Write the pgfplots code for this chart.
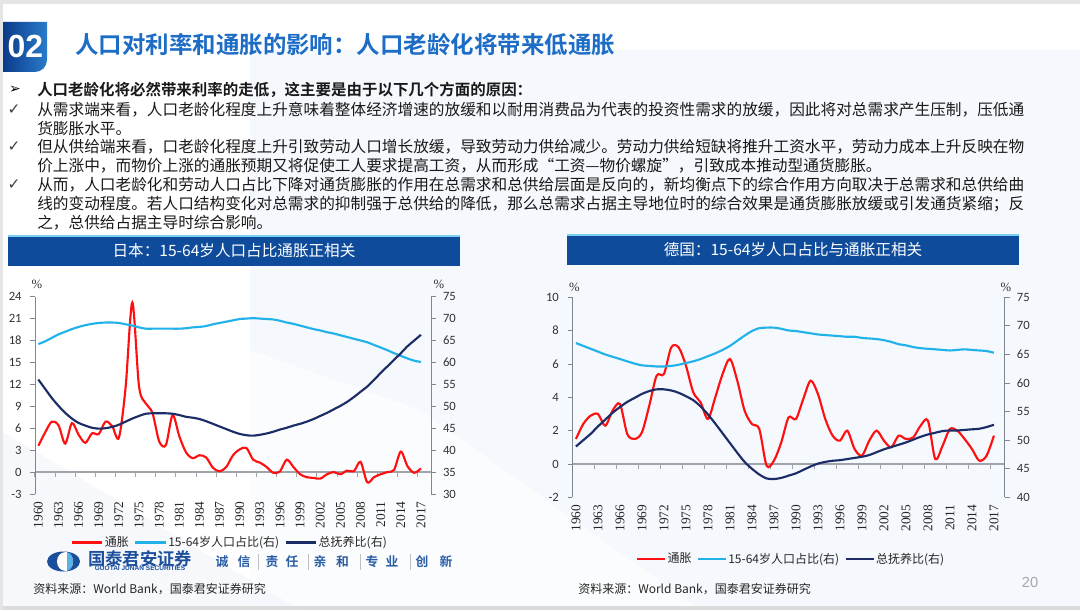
\documentclass[border=0pt]{standalone}
\usepackage{pgfplots}
\usepackage{pgfplotstable}
\pgfplotsset{compat=1.18}
\usepackage{fontspec}
\setmainfont{Noto Sans CJK SC}[BoldFont={Noto Sans CJK SC Bold}]
\newfontfamily\symf{DejaVu Sans}
\newfontfamily\calf{Carlito}
\newfontfamily\tmsf{Liberation Serif}
\newfontfamily\arif{Liberation Sans}

\definecolor{jred}{HTML}{FF1010}
\definecolor{lblue}{HTML}{22B2EA}
\definecolor{navy}{HTML}{1C2C66}
\definecolor{barblue}{HTML}{0E4C9B}
\definecolor{titleblue}{HTML}{1D6CC5}
\definecolor{axgray}{HTML}{7F8793}
\definecolor{zerogray}{HTML}{A0A4AA}
\definecolor{hdark}{HTML}{0B3A8A}
\definecolor{hlight}{HTML}{2A7CCB}
\definecolor{logoblue}{HTML}{1B4F9C}
\definecolor{logolight}{HTML}{5DB2E4}
\definecolor{slogan}{HTML}{2B5DA6}
\definecolor{bgtint}{HTML}{EEF3FA}

\pgfplotstableread{
year infl wa dep
1960 3.6 64.2 56.1
1961 5.4 64.8 54.0
1962 6.9 65.6 51.9
1963 6.4 66.4 50.1
1964 3.9 67.0 48.5
1965 6.7 67.6 47.2
1966 5.1 68.1 46.2
1967 4.0 68.5 45.6
1968 5.3 68.8 45.1
1969 5.2 69.0 44.9
1970 6.9 69.1 45.0
1971 6.3 69.1 45.3
1972 4.7 69.0 45.8
1973 11.6 68.7 46.5
1974 23.2 68.4 47.2
1975 11.7 68.0 47.8
1976 9.4 67.7 48.3
1977 8.1 67.7 48.4
1978 4.2 67.7 48.4
1979 3.7 67.7 48.4
1980 7.8 67.7 48.3
1981 4.9 67.7 48.0
1982 2.7 67.8 47.6
1983 1.9 68.0 47.4
1984 2.3 68.1 47.1
1985 2.0 68.3 46.6
1986 0.6 68.7 46.0
1987 0.1 69.0 45.4
1988 0.7 69.3 44.8
1989 2.3 69.6 44.2
1990 3.1 69.9 43.7
1991 3.3 70.0 43.4
1992 1.7 70.1 43.3
1993 1.3 70.0 43.5
1994 0.7 69.9 43.8
1995 -0.1 69.8 44.2
1996 0.1 69.5 44.7
1997 1.7 69.1 45.1
1998 0.7 68.8 45.6
1999 -0.3 68.4 46.0
2000 -0.7 68.0 46.5
2001 -0.8 67.6 47.1
2002 -0.9 67.3 47.8
2003 -0.3 66.9 48.5
2004 0.0 66.6 49.3
2005 -0.3 66.2 50.1
2006 0.2 65.8 51.0
2007 0.1 65.4 52.1
2008 1.4 65.0 53.3
2009 -1.4 64.6 54.5
2010 -0.7 64.0 56.0
2011 -0.3 63.4 57.6
2012 0.0 62.8 59.1
2013 0.3 62.1 60.6
2014 2.8 61.5 62.1
2015 0.8 60.9 63.7
2016 -0.1 60.4 65.0
2017 0.5 60.1 66.3
}\jpdata

\pgfplotstableread{
year infl wa dep
1960 1.5 67.0 48.9
1961 2.4 66.5 50.0
1962 2.9 66.0 51.1
1963 3.0 65.5 52.4
1964 2.3 65.0 53.6
1965 3.2 64.6 54.8
1966 3.6 64.2 55.8
1967 1.8 63.8 56.7
1968 1.5 63.4 57.4
1969 1.9 63.1 58.1
1970 3.5 63.0 58.6
1971 5.3 62.9 58.9
1972 5.4 62.9 58.9
1973 7.0 63.0 58.7
1974 7.0 63.2 58.3
1975 5.9 63.5 57.7
1976 4.3 63.8 57.0
1977 3.7 64.2 55.9
1978 2.7 64.7 54.5
1979 4.0 65.2 52.9
1980 5.4 65.8 51.2
1981 6.3 66.5 49.5
1982 5.0 67.4 47.8
1983 3.2 68.3 46.2
1984 2.4 69.1 45.0
1985 2.1 69.6 44.0
1986 -0.1 69.7 43.3
1987 0.2 69.7 43.2
1988 1.3 69.5 43.4
1989 2.8 69.2 43.8
1990 2.7 69.1 44.2
1991 3.9 68.9 44.8
1992 5.0 68.7 45.4
1993 4.2 68.5 45.9
1994 2.7 68.4 46.2
1995 1.7 68.3 46.4
1996 1.4 68.2 46.5
1997 2.0 68.1 46.7
1998 0.9 68.1 46.9
1999 0.5 67.9 47.1
2000 1.4 67.8 47.4
2001 2.0 67.7 47.9
2002 1.4 67.5 48.4
2003 1.0 67.2 48.8
2004 1.7 66.8 49.2
2005 1.5 66.6 49.6
2006 1.6 66.3 50.1
2007 2.3 66.1 50.6
2008 2.6 66.0 51.0
2009 0.3 65.9 51.3
2010 1.1 65.8 51.6
2011 2.1 65.7 51.7
2012 2.0 65.8 51.7
2013 1.5 65.9 51.8
2014 0.9 65.8 51.9
2015 0.2 65.7 52.0
2016 0.5 65.6 52.3
2017 1.7 65.3 52.7
}\dedata

\pgfplotsset{
  chartbase/.style={scale only axis, xmin=1959.5, xmax=2018.5,
    /pgf/number format/assume math mode=true},
  leftax/.style={chartbase,
    axis y line*=left, axis x line*=bottom,
    x axis line style={draw=none},
    y axis line style={draw=axgray, line width=0.7pt},
    xtick={1960,1963,1966,1969,1972,1975,1978,1981,1984,1987,1990,1993,1996,1999,2002,2005,2008,2011,2014,2017},
    xticklabels={1960,1963,1966,1969,1972,1975,1978,1981,1984,1987,1990,1993,1996,1999,2002,2005,2008,2011,2014,2017},
    xtick style={draw=none},
    xticklabel style={rotate=90, anchor=east, font=\tmsf\fontsize{10}{10}\selectfont, text=black!85},
    xticklabel shift=2pt,
    ytick style={draw=axgray, line width=0.7pt},
    ytick align=outside, major tick length=3.5pt,
    yticklabel style={font=\calf\fontsize{9.5}{10}\selectfont, text=black!80},
    yticklabel shift=3pt},
  rightax/.style={chartbase,
    axis y line*=right, axis x line=none,
    y axis line style={draw=axgray, line width=0.7pt},
    ytick style={draw=axgray, line width=0.7pt},
    ytick align=outside, major tick length=3.5pt,
    yticklabel style={font=\calf\fontsize{9.5}{10}\selectfont, text=black!80},
    yticklabel shift=2pt,
    legend cell align=left,
    legend style={draw=none, fill=none, legend columns=3, anchor=center,
      font=\fontsize{9}{10}\selectfont, text=black!85,
      /tikz/every even column/.append style={column sep=3pt},
      nodes={inner sep=1pt}}},
  zeroax/.style={chartbase,
    axis x line*=middle, axis y line=none,
    x axis line style={draw=zerogray, line width=0.9pt},
    xtick={1959.5,1962.5,...,2016.5}, xticklabels={},
    xtick align=outside, major tick length=3.5pt,
    xtick style={draw=zerogray, line width=0.8pt},
    ytick=\empty},
  series/.style={line width=1.6pt, smooth, tension=0.5}
}

\begin{document}
\begin{tikzpicture}
\begin{scope}[x=0.75pt,y=0.75pt]
  % background
  \fill[white] (0,0) rectangle (1080,610);
  \fill[bgtint, opacity=0.55] (250,560) -- (1080,560) -- (1080,0) -- (250,0) -- cycle;
  \fill[white, opacity=0.6] (250,0) -- (700,0) -- (420,200) -- (250,260) -- cycle;
  \fill[bgtint, opacity=0.5] (0,0) -- (300,0) -- (0,180) -- cycle;
  \fill[black!14] (0,0) rectangle (1080,4);
  \fill[black!10] (0,606) rectangle (1080,610);
  \fill[black!10] (0,0) rectangle (2.5,610);
  % header
  \shade[left color=hdark, right color=hlight] (3,588) -- (47,588) -- (47,550) arc[start angle=0, end angle=-90, radius=12] -- (3,538) -- cycle;
  \node[white, font=\arif\bfseries\fontsize{24}{24}\selectfont] at (25.5,564) {02};
  \node[anchor=west, text=titleblue, font=\bfseries\fontsize{17.6}{20}\selectfont, inner sep=0pt] at (75,565) {人口对利率和通胀的影响：人口老龄化将带来低通胀};
  % bullets
  \node[font=\symf\bfseries\fontsize{10.5}{11}\selectfont] at (15,520) {➢};
  \node[font=\symf\fontsize{11.5}{12}\selectfont, text=black!75] at (14,500) {✓};
  \node[font=\symf\fontsize{11.5}{12}\selectfont, text=black!75] at (14,463) {✓};
  \node[font=\symf\fontsize{11.5}{12}\selectfont, text=black!75] at (14,425) {✓};
  \begin{scope}[every node/.style={anchor=west, inner sep=0pt, font=\fontsize{11.75}{14}\selectfont, text=black!90}]
    \node[font=\bfseries\fontsize{11.6}{14}\selectfont] at (37,520) {人口老龄化将必然带来利率的走低，这主要是由于以下几个方面的原因：};
    \node at (37,500) {从需求端来看，人口老龄化程度上升意味着整体经济增速的放缓和以耐用消费品为代表的投资性需求的放缓，因此将对总需求产生压制，压低通};
    \node at (37,481.5) {货膨胀水平。};
    \node at (37,463) {但从供给端来看，口老龄化程度上升引致劳动人口增长放缓，导致劳动力供给减少。劳动力供给短缺将推升工资水平，劳动力成本上升反映在物};
    \node at (37,444) {价上涨中，而物价上涨的通胀预期又将促使工人要求提高工资，从而形成“工资—物价螺旋”，引致成本推动型通货膨胀。};
    \node at (37,425) {从而，人口老龄化和劳动人口占比下降对通货膨胀的作用在总需求和总供给层面是反向的，新均衡点下的综合作用方向取决于总需求和总供给曲};
    \node at (37,406) {线的变动程度。若人口结构变化对总需求的抑制强于总供给的降低，那么总需求占据主导地位时的综合效果是通货膨胀放缓或引发通货紧缩；反};
    \node at (37,387.5) {之，总供给占据主导时综合影响。};
  \end{scope}
  % chart title bars
  \fill[barblue] (8,344) rectangle (460,374);
  \draw[lblue!60, line width=0.8pt] (8,374) -- (460,374);
  \node[white, font=\fontsize{11.7}{13}\selectfont] at (234,359) {日本：15-64岁人口占比通胀正相关};
  \fill[barblue] (567,344.5) rectangle (1019,375);
  \draw[lblue!60, line width=0.8pt] (567,375) -- (1019,375);
  \node[white, font=\fontsize{11.7}{13}\selectfont] at (793,360) {德国：15-64岁人口占比与通胀正相关};
  % percent labels
  \node[font=\tmsf\fontsize{9.5}{10}\selectfont, text=black!80] at (37,326) {\%};
  \node[font=\tmsf\fontsize{9.5}{10}\selectfont, text=black!80] at (439,326) {\%};
  \node[font=\tmsf\fontsize{9.5}{10}\selectfont, text=black!80] at (574.5,323) {\%};
  \node[font=\tmsf\fontsize{9.5}{10}\selectfont, text=black!80] at (1006,323) {\%};
  % logo
  \fill[logoblue] (63.5,48.5) ellipse [x radius=16.5, y radius=10];
  \fill[white] (65,48.5) ellipse [x radius=8, y radius=9.3];
  \fill[logolight] (66.5,57.8) arc[start angle=90, end angle=-90, x radius=6.5, y radius=9.3] -- cycle;
  \fill[white] (65.3,39) rectangle (66.5,58);
  \node[text=logoblue, font=\bfseries\fontsize{13}{14}\selectfont, inner sep=0pt] at (140,51.5) {国泰君安证券};
  \node[text=logoblue, font=\arif\bfseries\fontsize{4.9}{5}\selectfont, inner sep=0pt] at (140,41.5) {GUOTAI JUNAN SECURITIES};
  \foreach \cx/\ch in {222/诚,244/信,272/责,292/任,320/亲,342.5/和,372/专,392/业,422/创,446/新}{
    \node[text=slogan, font=\bfseries\fontsize{9.6}{10}\selectfont, inner sep=0pt] at (\cx,48.5) {\ch};
  }
  \foreach \sx in {258,308,360,410}{
    \draw[black!25, line width=0.6pt] (\sx,40.5) -- (\sx,56.5);
  }
  % sources
  \node[anchor=west, inner sep=0pt, font=\fontsize{9}{10}\selectfont, text=black!85] at (33,21) {资料来源：World Bank，国泰君安证券研究};
  \node[anchor=west, inner sep=0pt, font=\fontsize{9}{10}\selectfont, text=black!85] at (578,21) {资料来源：World Bank，国泰君安证券研究};
  \node[font=\arif\fontsize{11}{12}\selectfont, text=black!35] at (1030,28) {20};
\end{scope}

% ---------------- Japan ----------------
\begin{axis}[zeroax, at={(26.25pt,87pt)}, anchor=south west, width=297pt, height=148pt, ymin=-3, ymax=24]
\end{axis}
\begin{axis}[leftax, at={(26.25pt,87pt)}, anchor=south west, width=297pt, height=148pt,
  ymin=-3, ymax=24, ytick={-3,0,...,24}]
\addplot[jred, series] table[x=year,y=infl]{\jpdata};
\end{axis}
\begin{axis}[rightax, at={(26.25pt,87pt)}, anchor=south west, width=297pt, height=148pt,
  ymin=30, ymax=75, ytick={30,35,...,75},
  legend style={at={(0.491,-0.246)}},
  legend image code/.code={\draw[#1] (0pt,0pt) -- (23pt,0pt);}]
\addlegendimage{jred, line width=1.6pt}
\addlegendentry{通胀}
\addplot[lblue, series] table[x=year,y=wa]{\jpdata};
\addlegendentry{15-64岁人口占比(右)}
\addplot[navy, series] table[x=year,y=dep]{\jpdata};
\addlegendentry{总抚养比(右)}
\end{axis}

% ---------------- Germany ----------------
\begin{axis}[zeroax, at={(429.2pt,84.5pt)}, anchor=south west, width=324.5pt, height=150pt, ymin=-2, ymax=10]
\end{axis}
\begin{axis}[leftax, at={(429.2pt,84.5pt)}, anchor=south west, width=324.5pt, height=150pt,
  ymin=-2, ymax=10, ytick={-2,0,...,10}]
\addplot[jred, series] table[x=year,y=infl]{\dedata};
\end{axis}
\begin{axis}[rightax, at={(429.2pt,84.5pt)}, anchor=south west, width=324.5pt, height=150pt,
  ymin=40, ymax=75, ytick={40,45,...,75},
  legend style={at={(0.505,-0.3085)}},
  legend image code/.code={\draw[#1] (0pt,0pt) -- (21pt,0pt);}]
\addlegendimage{jred, line width=1.6pt}
\addlegendentry{通胀}
\addplot[lblue, series] table[x=year,y=wa]{\dedata};
\addlegendentry{15-64岁人口占比(右)}
\addplot[navy, series] table[x=year,y=dep]{\dedata};
\addlegendentry{总抚养比(右)}
\end{axis}

\pgfresetboundingbox
\path[use as bounding box] (0,0) rectangle (810pt,457.5pt);
\end{tikzpicture}
\end{document}
